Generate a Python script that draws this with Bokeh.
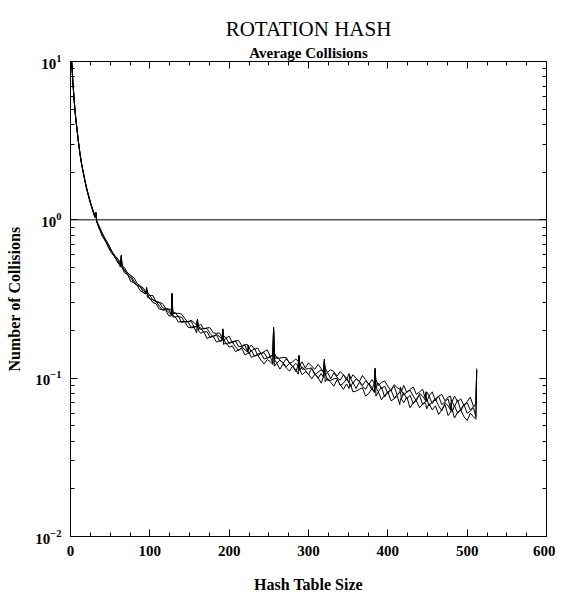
from bokeh.plotting import figure
from bokeh.models import (Range1d, LinearAxis, LogAxis, Span, Title, FixedTicker,
                          SingleIntervalTicker, LogTickFormatter, CustomJSTickFormatter)
from bokeh.embed import file_html
from bokeh.resources import INLINE

# ---------------- data ----------------
table_size = [1, 2, 3, 4, 5, 6, 7, 8, 10, 12, 14, 16, 18, 20, 22, 24, 26, 28, 30, 31, 32, 33,
              36, 40, 44, 48, 52, 56, 60, 63, 64, 65,
              68, 72, 76, 80, 84, 88, 92, 95, 96, 97,
              100, 104, 108, 112, 116, 120, 124, 127, 128, 129,
              132, 136, 140, 144, 148, 152, 156, 159, 160, 161,
              164, 168, 172, 176, 180, 184, 188, 191, 192, 193,
              196, 200, 204, 208, 212, 216, 220, 223, 224, 225,
              228, 232, 236, 240, 244, 248, 252, 255, 256, 257,
              260, 264, 268, 272, 276, 280, 284, 287, 288, 289,
              292, 296, 300, 304, 308, 312, 316, 319, 320, 321,
              324, 328, 332, 336, 340, 344, 348, 351, 352, 353,
              356, 360, 364, 368, 372, 376, 380, 383, 384, 385,
              388, 392, 396, 400, 404, 408, 412, 415, 416, 417,
              420, 424, 428, 432, 436, 440, 444, 447, 448, 449,
              452, 456, 460, 464, 468, 472, 476, 479, 480, 481,
              484, 488, 492, 496, 500, 504, 508, 511, 512]

run_1 = [10.9, 8.95, 7.38, 6.28, 5.38, 4.69, 4.18, 3.79, 3.09, 2.59, 2.24, 1.99, 1.77, 1.59, 1.45, 1.33, 1.23, 1.14, 1.06, 1.03, 1.11, 0.97,
         0.887, 0.787, 0.734, 0.666, 0.612, 0.583, 0.536, 0.503, 0.58, 0.500,
         0.463, 0.451, 0.408, 0.400, 0.386, 0.356, 0.347, 0.340, 0.36, 0.324,
         0.320, 0.300, 0.295, 0.273, 0.271, 0.269, 0.247, 0.247, 0.335, 0.248,
         0.244, 0.226, 0.228, 0.228, 0.210, 0.208, 0.209, 0.193, 0.228, 0.201,
         0.192, 0.197, 0.178, 0.182, 0.183, 0.169, 0.172, 0.172, 0.198, 0.163,
         0.168, 0.157, 0.160, 0.147, 0.151, 0.154, 0.140, 0.143, 0.143, 0.146,
         0.135, 0.139, 0.140, 0.130, 0.123, 0.131, 0.127, 0.122, 0.200, 0.119,
         0.124, 0.114, 0.123, 0.116, 0.111, 0.119, 0.113, 0.106, 0.135, 0.113,
         0.105, 0.110, 0.106, 0.099, 0.106, 0.101, 0.093, 0.103, 0.128, 0.095,
         0.100, 0.094, 0.089, 0.098, 0.091, 0.085, 0.092, 0.086, 0.092, 0.091,
         0.082, 0.083, 0.085, 0.087, 0.077, 0.080, 0.086, 0.082, 0.112, 0.077,
         0.082, 0.073, 0.078, 0.082, 0.072, 0.074, 0.077, 0.068, 0.074, 0.074,
         0.070, 0.076, 0.065, 0.070, 0.072, 0.065, 0.069, 0.070, 0.068, 0.064,
         0.069, 0.063, 0.067, 0.059, 0.063, 0.068, 0.058, 0.061, 0.064, 0.064,
         0.056, 0.061, 0.063, 0.057, 0.054, 0.060, 0.057, 0.055, 0.110]

run_2 = [11.0, 9.02, 7.41, 6.31, 5.41, 4.71, 4.21, 3.81, 3.11, 2.61, 2.26, 2.01, 1.79, 1.61, 1.47, 1.35, 1.24, 1.16, 1.08, 1.05, 1.12, 0.98,
         0.887, 0.818, 0.739, 0.669, 0.634, 0.583, 0.533, 0.524, 0.60, 0.499,
         0.484, 0.449, 0.431, 0.399, 0.388, 0.377, 0.346, 0.342, 0.375, 0.339,
         0.316, 0.313, 0.305, 0.285, 0.269, 0.272, 0.260, 0.251, 0.345, 0.244,
         0.243, 0.247, 0.224, 0.228, 0.227, 0.210, 0.212, 0.211, 0.235, 0.201,
         0.208, 0.195, 0.197, 0.181, 0.185, 0.188, 0.171, 0.173, 0.204, 0.177,
         0.164, 0.168, 0.169, 0.158, 0.149, 0.157, 0.151, 0.146, 0.162, 0.143,
         0.150, 0.137, 0.142, 0.144, 0.132, 0.134, 0.136, 0.124, 0.207, 0.132,
         0.124, 0.130, 0.125, 0.118, 0.124, 0.119, 0.110, 0.121, 0.140, 0.112,
         0.118, 0.112, 0.105, 0.115, 0.107, 0.100, 0.107, 0.101, 0.132, 0.107,
         0.097, 0.097, 0.099, 0.100, 0.090, 0.093, 0.099, 0.095, 0.094, 0.088,
         0.094, 0.086, 0.094, 0.089, 0.085, 0.093, 0.087, 0.081, 0.116, 0.088,
         0.082, 0.088, 0.076, 0.082, 0.084, 0.075, 0.079, 0.081, 0.082, 0.074,
         0.081, 0.074, 0.078, 0.069, 0.074, 0.078, 0.068, 0.071, 0.074, 0.074,
         0.067, 0.071, 0.074, 0.067, 0.062, 0.070, 0.067, 0.063, 0.070, 0.061,
         0.067, 0.060, 0.064, 0.068, 0.060, 0.062, 0.065, 0.057, 0.113]

run_3 = [11.1, 9.05, 7.43, 6.33, 5.42, 4.72, 4.22, 3.82, 3.12, 2.62, 2.27, 2.02, 1.80, 1.62, 1.48, 1.36, 1.25, 1.16, 1.08, 1.05, 1.10, 0.99,
         0.914, 0.820, 0.736, 0.695, 0.635, 0.580, 0.553, 0.521, 0.59, 0.514,
         0.477, 0.463, 0.442, 0.411, 0.385, 0.379, 0.359, 0.345, 0.37, 0.334,
         0.334, 0.310, 0.306, 0.301, 0.279, 0.274, 0.270, 0.252, 0.34, 0.257,
         0.260, 0.244, 0.243, 0.226, 0.228, 0.229, 0.210, 0.212, 0.236, 0.215,
         0.203, 0.206, 0.206, 0.192, 0.182, 0.189, 0.183, 0.176, 0.205, 0.172,
         0.180, 0.165, 0.170, 0.172, 0.158, 0.159, 0.161, 0.148, 0.152, 0.155,
         0.148, 0.154, 0.139, 0.143, 0.145, 0.134, 0.138, 0.138, 0.210, 0.131,
         0.137, 0.130, 0.124, 0.133, 0.125, 0.118, 0.124, 0.119, 0.138, 0.124,
         0.114, 0.114, 0.115, 0.116, 0.105, 0.109, 0.113, 0.109, 0.130, 0.104,
         0.109, 0.099, 0.108, 0.101, 0.097, 0.105, 0.100, 0.093, 0.104, 0.100,
         0.093, 0.099, 0.096, 0.090, 0.096, 0.092, 0.084, 0.094, 0.114, 0.087,
         0.093, 0.086, 0.089, 0.080, 0.085, 0.089, 0.078, 0.082, 0.086, 0.084,
         0.078, 0.082, 0.084, 0.077, 0.072, 0.080, 0.077, 0.073, 0.082, 0.071,
         0.077, 0.069, 0.074, 0.077, 0.068, 0.071, 0.074, 0.064, 0.073, 0.071,
         0.066, 0.073, 0.062, 0.068, 0.070, 0.063, 0.066, 0.068, 0.115]

run_4 = [11.05, 8.98, 7.36, 6.27, 5.37, 4.68, 4.19, 3.80, 3.10, 2.60, 2.25, 2.00, 1.78, 1.60, 1.46, 1.34, 1.24, 1.15, 1.07, 1.04, 1.09, 0.98,
         0.907, 0.826, 0.756, 0.699, 0.633, 0.594, 0.564, 0.534, 0.57, 0.510,
         0.500, 0.460, 0.445, 0.431, 0.397, 0.382, 0.371, 0.348, 0.36, 0.349,
         0.333, 0.332, 0.303, 0.301, 0.296, 0.276, 0.273, 0.269, 0.33, 0.257,
         0.256, 0.257, 0.254, 0.238, 0.226, 0.232, 0.224, 0.216, 0.232, 0.212,
         0.220, 0.204, 0.208, 0.208, 0.193, 0.192, 0.193, 0.179, 0.200, 0.186,
         0.179, 0.184, 0.167, 0.172, 0.173, 0.160, 0.163, 0.163, 0.158, 0.155,
         0.162, 0.152, 0.155, 0.143, 0.147, 0.151, 0.137, 0.140, 0.205, 0.144,
         0.133, 0.134, 0.135, 0.135, 0.124, 0.127, 0.132, 0.128, 0.136, 0.121,
         0.127, 0.116, 0.125, 0.119, 0.114, 0.122, 0.115, 0.108, 0.126, 0.116,
         0.109, 0.113, 0.110, 0.103, 0.110, 0.105, 0.097, 0.107, 0.101, 0.099,
         0.105, 0.100, 0.095, 0.104, 0.098, 0.091, 0.098, 0.093, 0.110, 0.098,
         0.090, 0.094, 0.096, 0.089, 0.083, 0.091, 0.087, 0.085, 0.088, 0.082,
         0.090, 0.081, 0.085, 0.088, 0.079, 0.082, 0.085, 0.075, 0.079, 0.082,
         0.077, 0.082, 0.072, 0.077, 0.079, 0.072, 0.076, 0.077, 0.072, 0.071,
         0.077, 0.071, 0.074, 0.067, 0.071, 0.076, 0.066, 0.069, 0.112]

runs = [run_1, run_2, run_3, run_4]

y_major_ticks = [0.01, 0.1, 1, 10]
y_minor_ticks = [0.02, 0.03, 0.04, 0.05, 0.06, 0.07, 0.08, 0.09,
                 0.2, 0.3, 0.4, 0.5, 0.6, 0.7, 0.8, 0.9,
                 2, 3, 4, 5, 6, 7, 8, 9]
reference_level = 1.0

TITLE = "ROTATION HASH"
SUBTITLE = "Average Collisions"
X_LABEL = "Hash Table Size"
Y_LABEL = "Number of Collisions"

# ---------------- figure ----------------
FONT = "Liberation Serif"

p = figure(width=555, height=595,
           x_range=Range1d(0, 600), y_range=Range1d(0.01, 10),
           y_axis_type="log", output_backend="svg", toolbar_location=None,
           title=None, min_border_left=70, min_border_right=9,
           min_border_top=61, min_border_bottom=54,
           background_fill_color="white", border_fill_color="white")
p.outline_line_color = "black"
p.xgrid.visible = False
p.ygrid.visible = False


def style_axis(ax):
    ax.major_tick_in = 7
    ax.major_tick_out = 0
    ax.minor_tick_in = 4
    ax.minor_tick_out = 0
    ax.axis_line_color = "black"
    ax.major_tick_line_color = "black"
    ax.minor_tick_line_color = "black"
    ax.major_label_text_font = FONT
    ax.major_label_text_font_style = "bold"
    ax.major_label_text_font_size = "15px"
    ax.major_label_text_color = "black"
    ax.axis_label_text_font = FONT
    ax.axis_label_text_font_style = "bold"
    ax.axis_label_text_font_size = "16px"
    ax.axis_label_text_color = "black"


xa = p.xaxis[0]
xa.ticker = SingleIntervalTicker(interval=100, num_minor_ticks=4)
style_axis(xa)
xa.major_label_standoff = 9
xa.axis_label = X_LABEL
xa.axis_label_standoff = 17

ya = p.yaxis[0]
ya.ticker = FixedTicker(ticks=y_major_ticks, minor_ticks=y_minor_ticks)
ya.formatter = LogTickFormatter()
style_axis(ya)
ya.major_label_standoff = 9
ya.axis_label = Y_LABEL
ya.axis_label_standoff = 9

blank = CustomJSTickFormatter(code="return ''")

top_axis = LinearAxis(ticker=SingleIntervalTicker(interval=100, num_minor_ticks=4), formatter=blank)
style_axis(top_axis)
top_axis.major_label_text_font_size = "0px"
top_axis.major_label_standoff = 11
p.add_layout(top_axis, "above")

right_axis = LogAxis(ticker=FixedTicker(ticks=y_major_ticks, minor_ticks=y_minor_ticks), formatter=blank)
style_axis(right_axis)
right_axis.major_label_text_font_size = "0px"
right_axis.major_label_standoff = 0
p.add_layout(right_axis, "right")

sub = Title(text=SUBTITLE, align="center", text_font=FONT, text_font_style="bold",
            text_font_size="15px", text_color="black", standoff=2)
p.add_layout(sub, "above")
main = Title(text=TITLE, align="center", text_font=FONT, text_font_style="normal",
             text_font_size="21px", text_color="black", standoff=2)
p.add_layout(main, "above")

p.add_layout(Span(location=reference_level, dimension="width", line_color="black", line_width=1))

for r in runs:
    p.line(table_size, r, line_color="black", line_width=1)

open("out.html", "w").write(file_html(p, INLINE))
